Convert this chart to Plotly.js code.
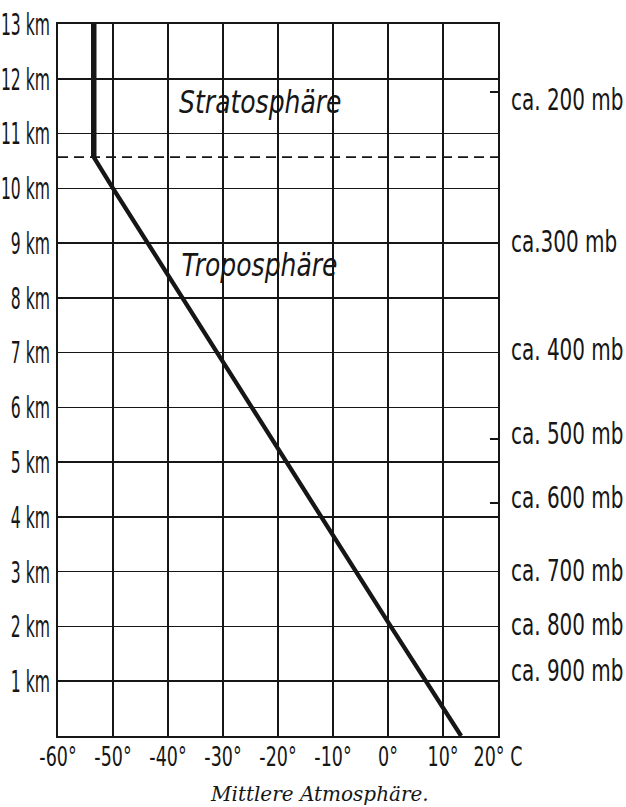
<!DOCTYPE html>
<html>
<head>
<meta charset="utf-8">
<script src="https://cdn.plot.ly/plotly-3.0.1.min.js"></script>
<style>
html,body{margin:0;padding:0;background:#fff;}
#chart{width:626px;height:807px;}
</style>
</head>
<body>
<div id="chart"></div>
<script>
// Temperature profile (°C) against height (km)
const tropoTemp = [13.3, 0.5, -50, -53.5];
const tropoHeight = [0, 2, 10, 10.57];
const stratoTemp = [-53.5, -53.5];
const stratoHeight = [10.57, 13];
// Tropopause
const tropopauseHeight = 10.57;
// Axis ticks
const tempTicks = [-60, -50, -40, -30, -20, -10, 0, 10, 20];
const tempLabels = ['-60°', '-50°', '-40°', '-30°', '-20°', '-10°', '0°', '10°', '20° C'];
const heightTicks = [1, 2, 3, 4, 5, 6, 7, 8, 9, 10, 11, 12, 13];
const heightLabels = ['1 km', '2 km', '3 km', '4 km', '5 km', '6 km', '7 km', '8 km', '9 km', '10 km', '11 km', '12 km', '13 km'];
// Pressure labels on the right
const pressureHeights = [11.62, 9.02, 7.05, 5.53, 4.35, 3.03, 2.03, 1.2];
const pressureLabels = ['ca. 200 mb', 'ca.300 mb', 'ca. 400 mb', 'ca. 500 mb', 'ca. 600 mb', 'ca. 700 mb', 'ca. 800 mb', 'ca. 900 mb'];
const pressureTickHeights = [11.75, 5.43, 4.25];
// Layer names
const layerNames = ['Stratosphäre', 'Troposphäre'];
const layerTemp = [-23.1, -23.4];
const layerHeight = [11.58, 8.6];
const caption = 'Mittlere Atmosphäre.';

const cond = 'DejaVu Sans Condensed, Liberation Sans Narrow, sans-serif';
const ink = '#161616';

const traces = [
  {
    x: [-60, 20], y: [tropopauseHeight, tropopauseHeight],
    mode: 'lines', line: {color: ink, width: 1.6, dash: '10px,6px'},
    hoverinfo: 'skip', showlegend: false
  },
  {
    x: tropoTemp, y: tropoHeight,
    mode: 'lines', line: {color: ink, width: 4.3},
    hoverinfo: 'skip', showlegend: false
  },
  {
    x: stratoTemp, y: stratoHeight,
    mode: 'lines', line: {color: ink, width: 5.5},
    hoverinfo: 'skip', showlegend: false
  },
  {x: [null], y: [null], yaxis: 'y2', mode: 'lines', showlegend: false, hoverinfo: 'skip'},
  {x: [null], y: [null], yaxis: 'y3', mode: 'lines', showlegend: false, hoverinfo: 'skip'}
];

const annotations = layerNames.map((t, i) => ({
  x: layerTemp[i], y: layerHeight[i], xref: 'x', yref: 'y',
  text: t, showarrow: false,
  font: {family: cond, size: 32, color: ink, style: 'italic'}
}));
annotations.push({
  x: 0.595, y: 0, xref: 'paper', yref: 'paper', yshift: -58,
  xanchor: 'center', yanchor: 'middle', showarrow: false,
  text: caption,
  font: {family: 'DejaVu Serif, Liberation Serif, serif', size: 20, color: ink, style: 'italic'}
});

const layout = {
  width: 626, height: 807,
  margin: {l: 58, r: 128, t: 24, b: 71},
  paper_bgcolor: '#fff', plot_bgcolor: '#fff',
  showlegend: false,
  xaxis: {
    range: [-60, 20], tickvals: tempTicks, ticktext: tempLabels,
    showgrid: true, gridcolor: ink, gridwidth: 1.5,
    showline: true, linecolor: ink, linewidth: 1.8, mirror: true,
    zeroline: false, ticks: '', ticklabelstandoff: -4, tickangle: 0,
    tickfont: {family: cond, size: 27, color: ink},
    fixedrange: true
  },
  yaxis: {
    range: [0, 13], tickvals: heightTicks, ticktext: heightLabels,
    showgrid: true, gridcolor: ink, gridwidth: 1.5,
    showline: true, linecolor: ink, linewidth: 1.8, mirror: true,
    zeroline: false, ticks: '', ticklabelstandoff: 0,
    tickfont: {family: cond, size: 31, color: ink},
    fixedrange: true
  },
  yaxis2: {
    overlaying: 'y', side: 'right', range: [0, 13],
    tickvals: pressureHeights, ticktext: pressureLabels,
    showgrid: false, zeroline: false, showline: false,
    ticks: '', ticklabelstandoff: 12,
    tickfont: {family: cond, size: 30, color: ink},
    fixedrange: true
  },
  yaxis3: {
    overlaying: 'y', side: 'right', range: [0, 13],
    tickvals: pressureTickHeights, showticklabels: false,
    showgrid: false, zeroline: false, showline: false,
    ticks: 'inside', ticklen: 8, tickwidth: 2, tickcolor: ink,
    fixedrange: true
  },
  annotations: annotations
};

function squeeze(elements, factor) {
  elements.forEach(el => {
    const w = el.getComputedTextLength();
    if (w > 0) {
      el.setAttribute('textLength', (w * factor).toFixed(1));
      el.setAttribute('lengthAdjust', 'spacingAndGlyphs');
    }
  });
}

Plotly.newPlot('chart', traces, layout, {staticPlot: true, displayModeBar: false}).then(() => {
  const q = s => Array.from(document.querySelectorAll('#chart ' + s));
  squeeze(q('.xtick text'), 0.72);
  squeeze(q('.ytick text'), 0.56);
  squeeze(q('.y2tick text'), 0.74);
  squeeze(q('.annotation-text').slice(0, 2), 0.87);
});
</script>
</body>
</html>
